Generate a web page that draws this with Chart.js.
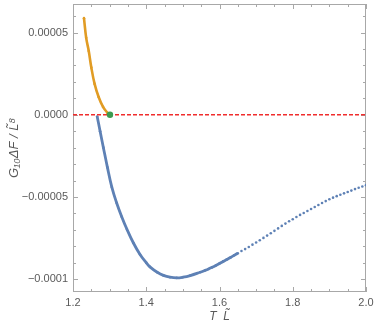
<!DOCTYPE html>
<html>
<head>
<meta charset="utf-8">
<script src="https://cdn.jsdelivr.net/npm/chart.js@4.4.0/dist/chart.umd.min.js"></script>
<style>html,body{margin:0;padding:0;background:#fff}</style>
</head>
<body>
<canvas id="chart" width="374" height="326"></canvas>
<script>
// Data, free energy in absolute units
const blueT = [1.266, 1.274, 1.283, 1.294, 1.306, 1.319, 1.333, 1.347, 1.365, 1.383, 1.40, 1.41, 1.43, 1.447, 1.465, 1.483, 1.50, 1.52, 1.547, 1.56, 1.57, 1.58, 1.59, 1.60, 1.61,
  1.62, 1.63, 1.64, 1.65, 1.66, 1.67, 1.68, 1.69, 1.70, 1.71, 1.72, 1.73, 1.74, 1.75, 1.76, 1.77, 1.78, 1.79, 1.80,
  1.81, 1.82, 1.83, 1.84, 1.85, 1.86, 1.87, 1.88, 1.89, 1.90, 1.91, 1.92, 1.93, 1.94, 1.95, 1.96, 1.97, 1.98, 1.99, 2.00];
const blueF = [-0.1e-5, -1.0e-5, -2.0e-5, -3.2e-5, -4.4e-5, -5.35e-5, -6.2e-5, -6.95e-5, -7.8e-5, -8.5e-5, -9.0e-5, -9.25e-5, -9.58e-5, -9.77e-5, -9.88e-5, -9.92e-5, -9.88e-5, -9.78e-5, -9.58e-5, -9.47e-5, -9.38e-5, -9.28e-5, -9.17e-5, -9.05e-5, -8.92e-5,
  -8.80e-5, -8.68e-5, -8.55e-5, -8.42e-5, -8.29e-5, -8.17e-5, -8.04e-5, -7.90e-5, -7.77e-5, -7.63e-5, -7.49e-5, -7.35e-5, -7.21e-5, -7.06e-5, -6.91e-5, -6.76e-5, -6.62e-5, -6.48e-5, -6.35e-5,
  -6.22e-5, -6.09e-5, -5.97e-5, -5.85e-5, -5.73e-5, -5.61e-5, -5.49e-5, -5.37e-5, -5.25e-5, -5.14e-5, -5.04e-5, -4.95e-5, -4.86e-5, -4.78e-5, -4.70e-5, -4.61e-5, -4.52e-5, -4.44e-5, -4.36e-5, -4.28e-5];

const orangeT = [1.230, 1.236, 1.243, 1.250, 1.259, 1.270, 1.282, 1.294, 1.301];
const orangeF = [5.88e-5, 4.68e-5, 3.88e-5, 2.88e-5, 1.88e-5, 1.08e-5, 0.48e-5, 0.12e-5, 0];

const crossT = [1.301];
const crossF = [0];

const zeroT = [1.2, 2.0];
const zeroF = [0, 0];

const xTicks = [1.2, 1.4, 1.6, 1.8, 2.0];
const yTicks = [-0.0001, -0.00005, 0, 0.00005];
const yTickLabels = ['\u22120.0001', '\u22120.00005', '0.0000', '0.00005'];

const blue = 'rgb(94,129,181)';
const orange = 'rgb(225,156,36)';
const grey = '#a8a8a8';
const labelGrey = '#5a5a5a';

const pts = (xs, ys) => xs.map((v, i) => ({ x: v, y: ys[i] }));

// Mathematica style frame with inward ticks
const frameTicks = {
  id: 'frameTicks',
  beforeDatasetsDraw(chart) {
    const { ctx, chartArea: a, scales: { x, y } } = chart;
    ctx.save();
    ctx.strokeStyle = grey;
    ctx.lineWidth = 1;
    ctx.strokeRect(a.left + 0.5, a.top + 0.5, a.width - 1, a.height - 1);
    ctx.beginPath();
    for (let i = 0; i <= 16; i++) {
      const px = Math.round(x.getPixelForValue(1.2 + i * 0.05)) + 0.5;
      const len = i % 4 === 0 ? 5 : 3;
      ctx.moveTo(px, a.bottom); ctx.lineTo(px, a.bottom - len);
      ctx.moveTo(px, a.top); ctx.lineTo(px, a.top + len);
    }
    for (let i = -10; i <= 6; i++) {
      const py = Math.round(y.getPixelForValue(i * 1e-5)) + 0.5;
      const len = i % 5 === 0 ? 5 : 3;
      ctx.moveTo(a.left, py); ctx.lineTo(a.left + len, py);
      ctx.moveTo(a.right, py); ctx.lineTo(a.right - len, py);
    }
    ctx.stroke();
    ctx.restore();
  }
};

new Chart(document.getElementById('chart'), {
  type: 'scatter',
  data: {
    datasets: [
      {
        data: pts(crossT, crossF),
        backgroundColor: 'rgb(60,155,80)',
        pointRadius: 3.2, pointBorderWidth: 0, order: 0
      },
      {
        data: pts(orangeT, orangeF),
        showLine: true, borderColor: orange, borderWidth: 2.6, tension: 0.4,
        backgroundColor: orange, pointRadius: 1.3, pointBorderWidth: 0,
        borderJoinStyle: 'round', order: 1
      },
      {
        data: pts(zeroT, zeroF),
        showLine: true, borderColor: 'rgb(240,45,45)', borderWidth: 1.6,
        borderDash: [4, 2], pointRadius: 0, order: 2
      },
      {
        data: pts(blueT, blueF),
        showLine: true, borderColor: blue, borderWidth: 2.8, tension: 0.4,
        backgroundColor: blue, pointRadius: 1.3, pointBorderWidth: 0,
        borderJoinStyle: 'round',
        segment: { borderColor: c => c.p0.parsed.x >= 1.645 ? 'rgba(0,0,0,0)' : blue },
        order: 3
      }
    ]
  },
  options: {
    responsive: false,
    animation: false,
    layout: { padding: { top: 0, right: 8, left: 0, bottom: 0 } },
    plugins: { legend: { display: false }, tooltip: { enabled: false } },
    scales: {
      x: {
        type: 'linear', min: 1.2, max: 2.0,
        afterBuildTicks: s => { s.ticks = xTicks.map(v => ({ value: v })); },
        afterFit: s => { s.height = 34; s.paddingLeft = 0; s.paddingRight = 0; },
        grid: { display: false, drawTicks: false }, border: { display: false },
        ticks: { color: labelGrey, padding: 4, font: { family: 'Liberation Sans', size: 11 },
          callback: v => v.toFixed(1) },
        title: { display: true, text: 'T  L\u0303', color: labelGrey, padding: { top: 0, bottom: 2 },
          font: { family: 'Liberation Sans', size: 12, style: 'italic' } }
      },
      y: {
        type: 'linear', min: -0.0001078, max: 0.0000674,
        afterBuildTicks: s => { s.ticks = yTicks.map(v => ({ value: v })); },
        afterFit: s => { s.width = 73; s.paddingTop = 0; s.paddingBottom = 0; },
        grid: { display: false, drawTicks: false }, border: { display: false },
        ticks: { color: labelGrey, padding: 5, font: { family: 'Liberation Sans', size: 11 },
          callback: (v, i) => yTickLabels[i] },
        title: { display: true, text: 'G\u2081\u2080\u0394F / L\u0303\u2078', color: labelGrey,
          padding: { top: 7, bottom: 0 },
          font: { family: 'Liberation Sans', size: 13, style: 'italic' } }
      }
    }
  },
  plugins: [frameTicks]
});
</script>
</body>
</html>
